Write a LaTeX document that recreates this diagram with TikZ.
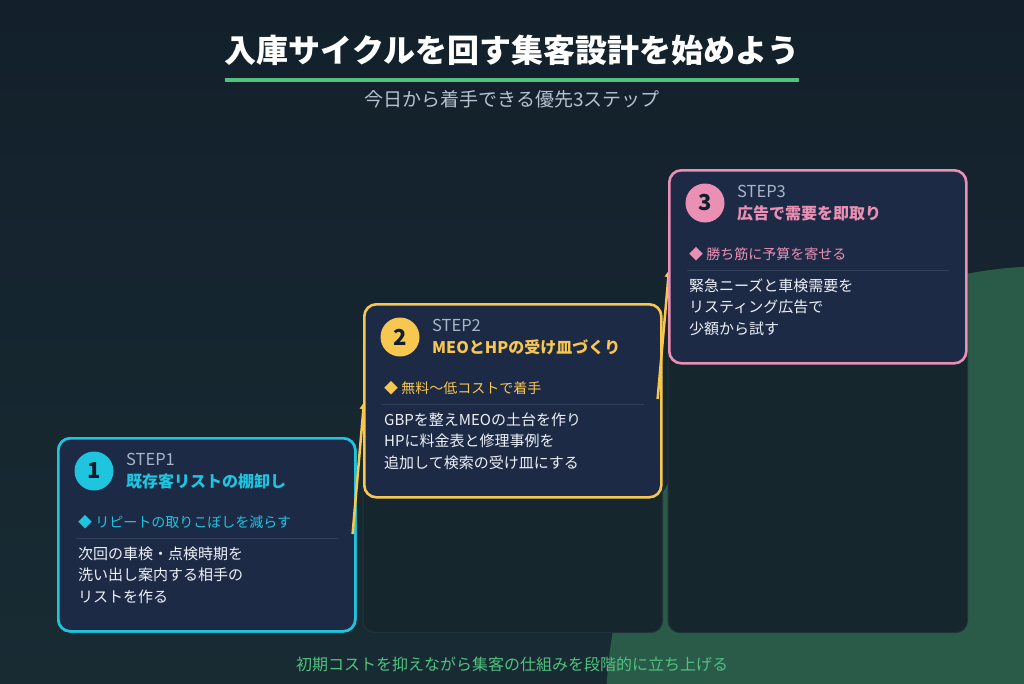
\documentclass[tikz,border=0pt]{standalone}
\usepackage{fontspec}
\setmainfont{Noto Sans CJK JP}
\usetikzlibrary{arrows.meta,positioning,calc}
\definecolor{bgtop}{HTML}{13202B}
\definecolor{bgbot}{HTML}{182B33}
\definecolor{hill}{HTML}{2A5B49}
\definecolor{pillarfill}{HTML}{15262D}
\definecolor{pillarline}{HTML}{223439}
\definecolor{cardfill}{HTML}{1D2A46}
\definecolor{stepcyan}{HTML}{1FC4DF}
\definecolor{stepyellow}{HTML}{F8C74F}
\definecolor{steppink}{HTML}{EA90B4}
\definecolor{labelgrey}{HTML}{A9B5C8}
\definecolor{subgrey}{HTML}{B7C2D0}
\definecolor{bodywhite}{HTML}{EEF2F7}
\definecolor{rulegrey}{HTML}{334059}
\definecolor{accentgreen}{HTML}{50C27F}
\definecolor{badgetext}{HTML}{141E2B}
\tikzset{
card/.style={draw=#1,fill=cardfill,line width=2.6pt,rounded corners=12pt,minimum width=297pt,minimum height=193pt,anchor=north west,inner sep=0pt},
pillar/.style={draw=pillarline,fill=pillarfill,line width=1pt,rounded corners=12pt},
badge/.style={circle,fill=#1,minimum size=39pt,inner sep=0pt,text=badgetext,font=\fontsize{22}{22}\selectfont\bfseries},
steplabel/.style={anchor=west,inner sep=0pt,text=labelgrey,font=\fontsize{16.5}{16.5}\selectfont},
steptitle/.style={anchor=west,inner sep=0pt,text=#1,font=\fontsize{16}{16}\selectfont\bfseries},
pointtext/.style={anchor=west,inner sep=0pt,text=#1,font=\fontsize{14}{14}\selectfont},
bodytext/.style={anchor=north west,inner sep=0pt,text=bodywhite,align=left,font=\fontsize{15}{21.5}\selectfont},
seprule/.style={draw=rulegrey,line width=0.8pt},
flow/.style={-{Triangle[length=7pt,width=7pt]},draw=stepyellow,line width=2.5pt}
}
\begin{document}
\begin{tikzpicture}[x=1pt,y=-1pt]
\useasboundingbox (0,0) rectangle (1024,683);
\shade[top color=bgtop,bottom color=bgbot] (0,0) rectangle (1024,683);
\begin{scope}
\clip (0,0) rectangle (1024,683);
\fill[hill] (1050,710) circle (444pt);
\end{scope}

\node[text=white,inner sep=0pt,font=\fontsize{32}{32}\selectfont\bfseries] (title) at (512,50) {入庫サイクルを回す集客設計を始めよう};
\draw[accentgreen,line width=4pt] ([yshift=-14pt]title.south west) -- ([yshift=-14pt]title.south east);
\node[below=25pt of title,inner sep=0pt,text=subgrey,font=\fontsize{19}{19}\selectfont] (subtitle) {今日から着手できる優先3ステップ};

\node[card=stepcyan] (card1) at (57,437) {};
\node[card=stepyellow,draw=none,fill=none] (card2) at (363,303) {};
\node[card=steppink,draw=none,fill=none] (card3) at (668,169) {};
\draw[pillar] (card2.west) rectangle (card2.east |- card1.south);
\draw[pillar] (card3.west) rectangle (card3.east |- card1.south);

\node[card=stepcyan] at (card1.north west) {};
\node[badge=stepcyan] (badge1) at ([shift={(37,34)}]card1.north west) {1};
\node[steplabel] (label1) at ([shift={(69,22)}]card1.north west) {STEP1};
\node[steptitle=stepcyan] (head1) at ([shift={(69,44)}]card1.north west) {既存客リストの棚卸し};
\node[pointtext=stepcyan] (point1) at ([shift={(21,85)}]card1.north west) {◆ リピートの取りこぼしを減らす};
\draw[seprule] ([shift={(19,101)}]card1.north west) -- ([shift={(-19,101)}]card1.north east);
\node[bodytext] (body1) at ([shift={(21,109.5)}]card1.north west) {次回の車検・点検時期を\\洗い出し案内する相手の\\リストを作る};

\coordinate (j1a) at ([shift={(-4,97)}]card1.north east);
\coordinate (j1b) at ([shift={(1,99)}]card2.north west);
\draw[flow] (j1a) -- (j1b);

\node[card=stepyellow] at (card2.north west) {};
\node[badge=stepyellow] (badge2) at ([shift={(37,34)}]card2.north west) {2};
\node[steplabel] (label2) at ([shift={(69,22)}]card2.north west) {STEP2};
\node[steptitle=stepyellow] (head2) at ([shift={(69,44)}]card2.north west) {MEOとHPの受け皿づくり};
\node[pointtext=stepyellow] (point2) at ([shift={(21,85)}]card2.north west) {◆ 無料〜低コストで着手};
\draw[seprule] ([shift={(19,101)}]card2.north west) -- ([shift={(-19,101)}]card2.north east);
\node[bodytext] (body2) at ([shift={(21,109.5)}]card2.north west) {GBPを整えMEOの土台を作り\\HPに料金表と修理事例を\\追加して検索の受け皿にする};

\coordinate (j2a) at ([shift={(-5,96)}]card2.north east);
\coordinate (j2b) at ([shift={(1,101)}]card3.north west);
\draw[flow] (j2a) -- (j2b);

\node[card=steppink] at (card3.north west) {};
\node[badge=steppink] (badge3) at ([shift={(37,34)}]card3.north west) {3};
\node[steplabel] (label3) at ([shift={(69,22)}]card3.north west) {STEP3};
\node[steptitle=steppink] (head3) at ([shift={(69,44)}]card3.north west) {広告で需要を即取り};
\node[pointtext=steppink] (point3) at ([shift={(21,85)}]card3.north west) {◆ 勝ち筋に予算を寄せる};
\draw[seprule] ([shift={(19,101)}]card3.north west) -- ([shift={(-19,101)}]card3.north east);
\node[bodytext] (body3) at ([shift={(21,109.5)}]card3.north west) {緊急ニーズと車検需要を\\リスティング広告で\\少額から試す};

\node[inner sep=0pt,text=accentgreen,font=\fontsize{16}{16}\selectfont] (footer) at (512,664) {初期コストを抑えながら集客の仕組みを段階的に立ち上げる};
\end{tikzpicture}
\end{document}
